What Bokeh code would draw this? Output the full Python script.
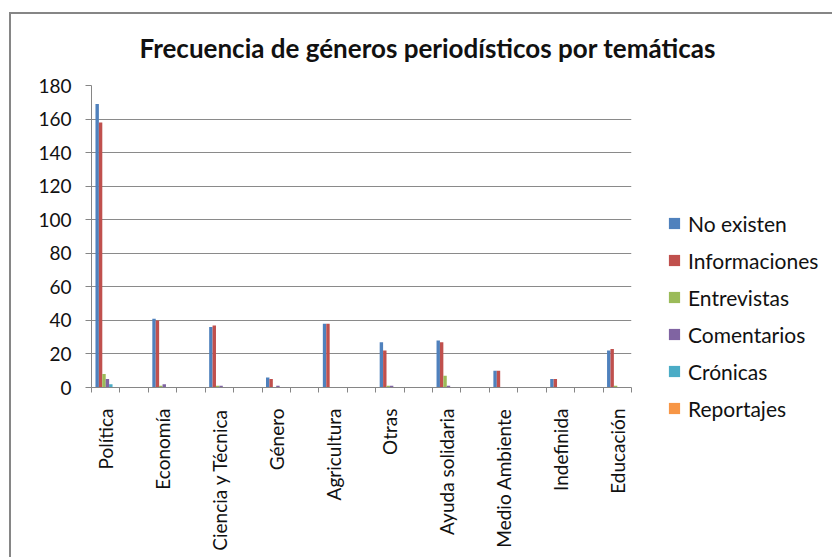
from bokeh.plotting import figure
from bokeh.models import (ColumnDataSource, FixedTicker, Range1d, Legend, LegendItem)
from bokeh.embed import file_html
from bokeh.resources import INLINE

categories = ["Política", "Economía", "Ciencia y Técnica", "Género", "Agricultura",
              "Otras", "Ayuda solidaria", "Medio Ambiente", "Indefinida", "Educación"]
series_names = ["No existen", "Informaciones", "Entrevistas", "Comentarios",
                "Crónicas", "Reportajes"]
no_existen    = [169, 41, 36, 6, 38, 27, 28, 10, 5, 22]
informaciones = [158, 40, 37, 5, 38, 22, 27, 10, 5, 23]
entrevistas   = [8, 1, 1, 0, 0, 1, 7, 0, 0, 1]
comentarios   = [5, 2, 1, 1, 0, 1, 1, 0, 0, 0]
cronicas      = [2, 0, 0, 0, 0, 0, 0, 0, 0, 0]
reportajes    = [0, 0, 0, 0, 0, 0, 0, 0, 0, 0]
series_values = [no_existen, informaciones, entrevistas, comentarios, cronicas, reportajes]
colors = ["#4F81BD", "#C0504D", "#9BBB59", "#8064A2", "#4BACC6", "#F79646"]
y_ticks = list(range(0, 181, 20))
title_text = "Frecuencia de géneros periodísticos por temáticas"

FONT = "Lato"
n_slots = 2 * len(categories) - 1
centers = [2 * i + 0.5 for i in range(len(categories))]
bar_w = 0.12

p = figure(frame_width=540, frame_height=302, output_backend="svg",
           toolbar_location=None,
           x_range=Range1d(0, n_slots), y_range=Range1d(0, 180),
           min_border_left=91, min_border_right=195, min_border_top=85,
           min_border_bottom=170, title=title_text)
# outer chart frame (left and top edges) drawn behind a transparent canvas border
p.styles = {
    "background": ("linear-gradient(#868686, #868686) 9px 12px / 2px 2000px no-repeat, "
                   "linear-gradient(#868686, #868686) 9px 12px / 2000px 2px no-repeat, "
                   "white"),
}
p.outline_line_color = None
p.background_fill_color = "white"
p.border_fill_color = None

p.title.align = "left"
p.title.offset = 48
p.title.standoff = 44
p.title.text_font = FONT
p.title.text_font_size = "26px"
p.title.text_font_style = "bold"
p.title.text_color = "#111111"

items = []
for j, (name, vals) in enumerate(zip(series_names, series_values)):
    xs = [c + (j - 2.5) * bar_w for c in centers]
    src = ColumnDataSource(dict(x=xs,
                                left=[x - bar_w / 2 for x in xs],
                                right=[x + bar_w / 2 for x in xs],
                                top=vals, bottom=[0] * len(vals)))
    p.quad(left="left", right="right", top="top", bottom="bottom", source=src,
           fill_color=colors[j], line_color=None)
    # legend swatch: zero-size square markers on the same data (invisible in the plot)
    sw = p.scatter(x="x", y="top", source=src, marker="square", size=0,
                   fill_color=colors[j], line_color=None)
    items.append(LegendItem(label=name, renderers=[sw]))

# axes
p.xaxis.ticker = FixedTicker(ticks=centers, minor_ticks=list(range(0, n_slots + 1)))
p.xaxis.major_label_overrides = {c: lab for c, lab in zip(centers, categories)}
p.xaxis.major_label_orientation = 1.5707963
p.xaxis.major_tick_line_color = None
p.xaxis.major_tick_out = 0
p.xaxis.major_tick_in = 0
p.xaxis.minor_tick_out = 5
p.xaxis.minor_tick_in = 0
p.xaxis.minor_tick_line_color = "#868686"
p.xaxis.axis_line_color = "#868686"
p.xaxis.major_label_standoff = 16
p.xaxis.major_label_text_font = FONT
p.xaxis.major_label_text_font_size = "19px"
p.xaxis.major_label_text_color = "#111111"

p.yaxis.ticker = FixedTicker(ticks=y_ticks, minor_ticks=[])
p.yaxis.axis_line_color = "#868686"
p.yaxis.major_tick_line_color = "#868686"
p.yaxis.major_tick_out = 6
p.yaxis.major_tick_in = 0
p.yaxis.major_label_standoff = 14
p.yaxis.major_label_text_font = FONT
p.yaxis.major_label_text_font_size = "19px"
p.yaxis.major_label_text_color = "#111111"

p.xgrid.grid_line_color = None
p.ygrid.ticker = FixedTicker(ticks=y_ticks)
p.ygrid.grid_line_color = "#8a8a8a"
p.ygrid.grid_line_width = 1

legend = Legend(items=items, location=(29, -35), orientation="vertical",
                glyph_width=28, glyph_height=28, label_height=25, spacing=9,
                label_standoff=0, padding=0, margin=0, border_line_color=None,
                background_fill_alpha=0, label_text_font=FONT,
                label_text_font_size="21px", label_text_color="#111111")
p.add_layout(legend, "right")

open("out.html", "w").write(file_html(p, INLINE))
